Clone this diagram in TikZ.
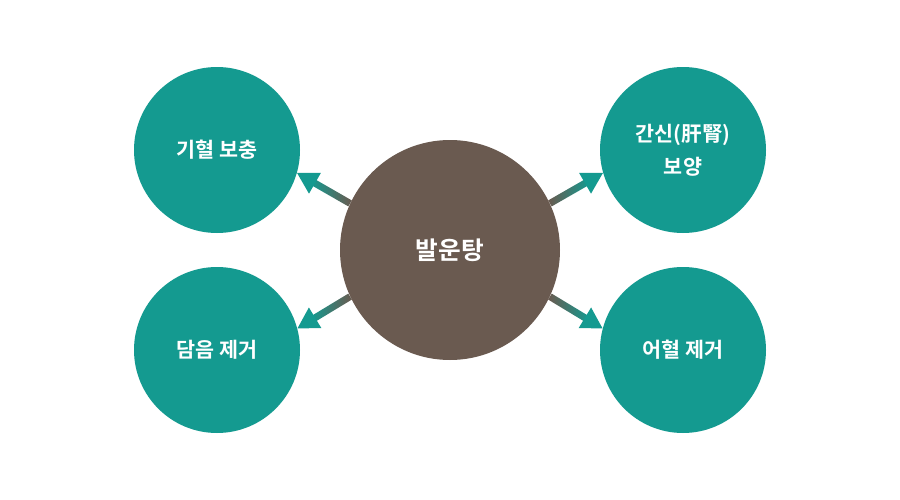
\documentclass[tikz,border=0pt]{standalone}
\usepackage{fontspec}
\setmainfont{Noto Sans CJK KR}[BoldFont={Noto Sans CJK KR Bold}]
\usetikzlibrary{calc}
\definecolor{tealc}{RGB}{20,154,144}
\definecolor{brownc}{RGB}{106,90,80}
\tikzset{
  hub/.style={circle,fill=brownc,minimum size=165pt,inner sep=0pt,text=white,font=\bfseries\fontsize{18.5}{22}\selectfont},
  leaf/.style={circle,fill=tealc,minimum size=124.5pt,inner sep=0pt,text=white,align=center,font=\bfseries\fontsize{15.5}{25}\selectfont},
}
% #1 outer node, #2 start angle on hub, #3 tip angle on outer node, #4/#5 shading colours
\newcommand\linkarrow[5]{%
  \path (c.#2) coordinate (s#1)
        (#1.#3) coordinate (t#1)
        ($(t#1)!15.5pt!(s#1)$) coordinate (b#1)
        ($(t#1)!13.5pt!(s#1)$) coordinate (bb#1);
  \shade[left color=#4,right color=#5]
    ($(s#1)!2.6pt!90:(t#1)$) -- ($(bb#1)!2.6pt!-90:(s#1)$) -- ($(bb#1)!2.6pt!90:(s#1)$) -- ($(s#1)!2.6pt!-90:(t#1)$) -- cycle;
  \fill[tealc] (t#1) -- ($(b#1)!9pt!90:(t#1)$) -- ($(b#1)!9pt!-90:(t#1)$) -- cycle;
}
\begin{document}
\begin{tikzpicture}[x=0.75pt,y=-0.75pt]
\useasboundingbox (0,0) rectangle (900,500);
\node[hub] (c) at (450,250) {발운탕};
\node[leaf] (tl) at (217,150) {기혈 보충};
\node[leaf] (tr) at (683,150) {간신(肝腎)\\보양};
\node[leaf] (bl) at (217,350) {담음 제거};
\node[leaf] (br) at (683,350) {어혈 제거};
\linkarrow{tl}{155}{-16}{tealc}{brownc}
\linkarrow{bl}{205}{15}{tealc}{brownc}
\linkarrow{tr}{25}{196}{brownc}{tealc}
\linkarrow{br}{-25}{165}{brownc}{tealc}
\end{tikzpicture}
\end{document}
